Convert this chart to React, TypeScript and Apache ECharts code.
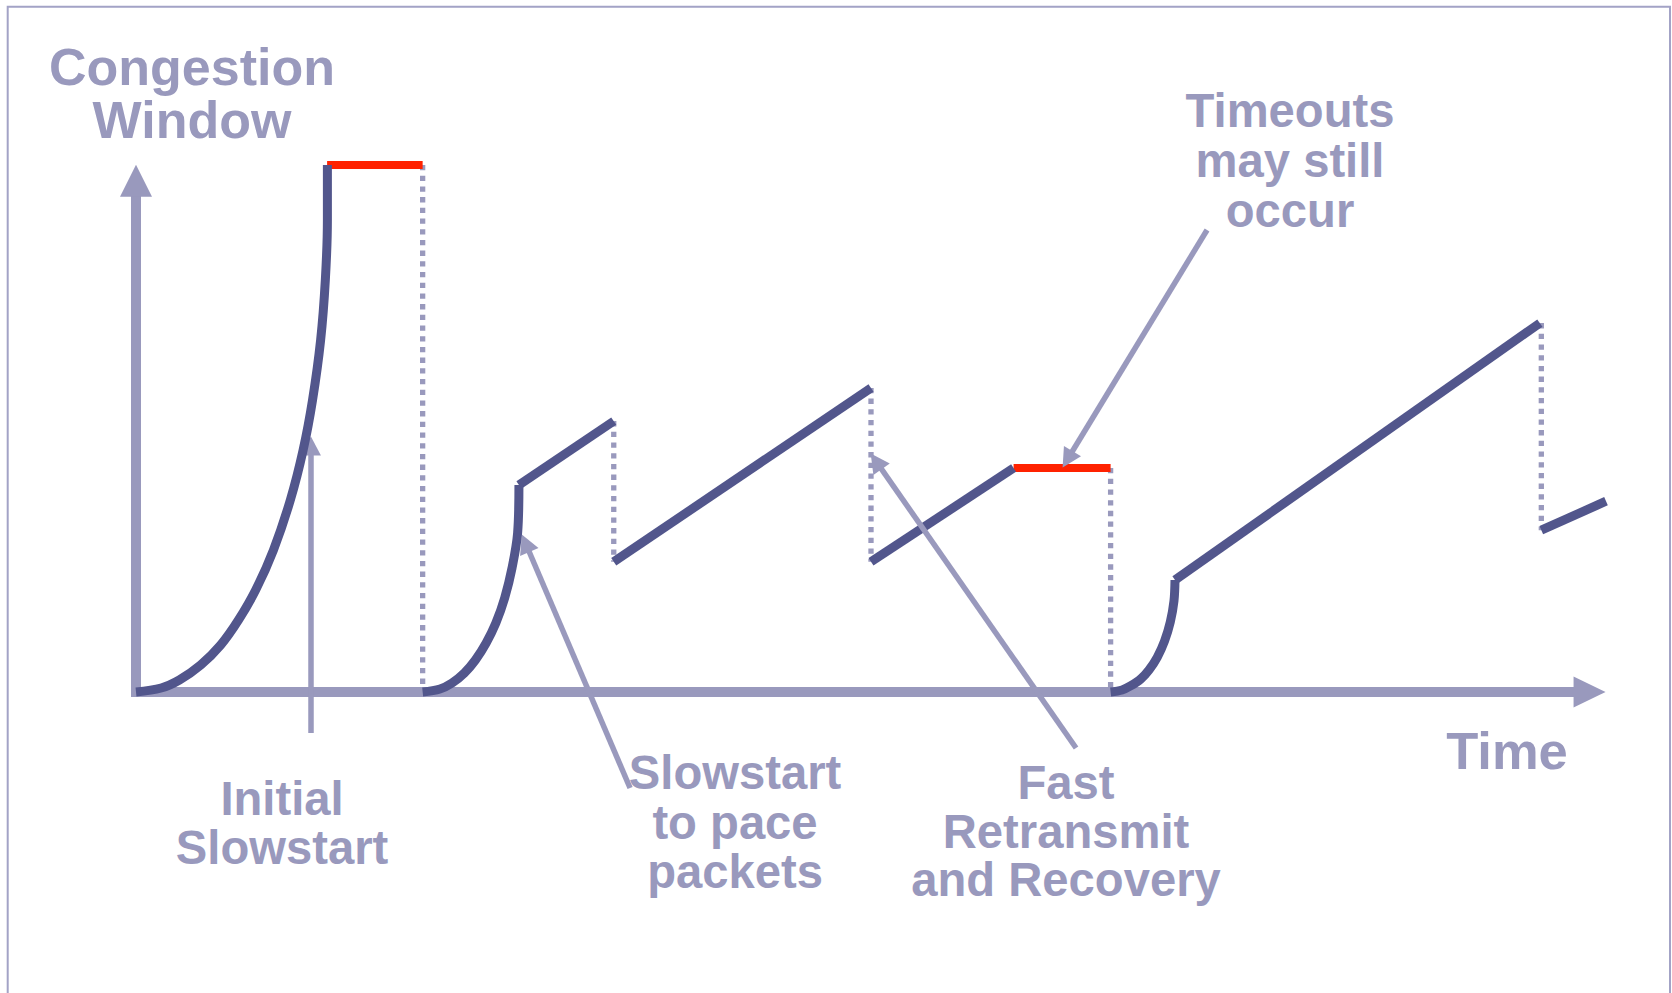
import React, { useEffect, useRef } from "react";
import * as echarts from "echarts";

// Axis ranges: time in arbitrary units, congestion window as % of the first peak.
const TIME_RANGE: [number, number] = [-5, 102];
const CWND_RANGE: [number, number] = [-25, 105];

// Exponential growth phases (slow start).
const initialSlowstart: [number, number][] = [
  [0, 0], [1.71, 0.76], [2.95, 2.28], [4.4, 5.12], [5.76, 8.92], [6.97, 13.66],
  [8.14, 19.35], [9.35, 26.94], [10.5, 36.43], [11.37, 45.92], [12.01, 55.41],
  [12.56, 66.79], [12.88, 78.18], [13.02, 89.56], [13.02, 100],
];
const paceSlowstart: [number, number][] = [
  [19.5, 0], [20.68, 0.57], [21.5, 1.71], [22.34, 3.61], [23.09, 6.07],
  [23.82, 9.3], [24.48, 13.09], [25.08, 17.84], [25.58, 23.53], [25.96, 30.17],
  [26.05, 39.28],
];
const timeoutSlowstart: [number, number][] = [
  [66.3, 0], [67.08, 0.38], [67.65, 1.14], [68.35, 2.47], [68.91, 4.17],
  [69.48, 6.64], [69.97, 9.68], [70.36, 13.28], [70.61, 17.27], [70.68, 21.25],
];

// Linear growth phases (congestion avoidance).
const congestionAvoidance: [number, number][][] = [
  [[26.05, 39.28], [32.5, 51.4]],
  [[32.5, 24.7], [50.0, 57.7]],
  [[50.0, 24.7], [59.7, 42.5]],
  [[70.68, 21.25], [95.5, 70.0]],
  [[95.6, 30.7], [100, 36.2]],
];

// Window stalled while waiting for a timeout.
const windowStall: [number, number][][] = [
  [[13.0, 100], [19.5, 100]],
  [[59.7, 42.5], [66.3, 42.5]],
];

// Window reductions (loss detected).
const windowCut: [number, number][][] = [
  [[19.5, 100], [19.5, 0]],
  [[32.5, 51.4], [32.5, 24.7]],
  [[50.0, 57.7], [50.0, 24.7]],
  [[66.3, 42.5], [66.3, 0]],
  [[95.6, 70.0], [95.6, 30.7]],
];

// Axis lines end at the centre of their arrowheads.
const timeAxisLine: [number, number][] = [[-0.34, 0], [98.88, 0]];
const cwndAxisLine: [number, number][] = [[0, 0], [0, 97.0]];

// Callout arrows: tail, then arrowhead centre.
const calloutsUnder: [number, number][][] = [
  [[11.9, -7.78], [11.9, 46.68]],
  [[33.61, -18.22], [26.5, 28.22]],
];
const calloutsOver: [number, number][][] = [
  [[63.95, -10.63], [50.35, 43.76]],
  [[72.86, 87.67], [63.37, 44.16]],
];

const yTitle = ["Congestion", "Window"];
const xTitle = ["Time"];
const noteInitial = ["Initial", "Slowstart"];
const notePace = ["Slowstart", "to pace", "packets"];
const noteFast = ["Fast", "Retransmit", "and Recovery"];
const noteTimeout = ["Timeouts", "may still", "occur"];

const DARK = "#52568c";
const LIGHT = "#9999bd";
const RED = "#ff2200";
const FONT = '"Liberation Sans", Arial, Helvetica, sans-serif';

const plain = {
  type: "line" as const,
  showSymbol: false,
  symbol: "none",
  silent: true,
  clip: false,
  emphasis: { disabled: true },
};

function segmentSeries(
  segs: [number, number][][],
  color: string,
  width: number,
  z: number,
  dash?: number[]
) {
  return segs.map((d) => ({
    ...plain,
    data: d,
    z,
    itemStyle: { color },
    lineStyle: { color, width, type: dash ?? "solid", cap: "butt" },
  }));
}

function curveSeries(d: [number, number][]) {
  return {
    ...plain,
    data: d,
    z: 5,
    smooth: 0.35,
    itemStyle: { color: DARK },
    lineStyle: { color: DARK, width: 9, cap: "butt" },
  };
}

function arrowLines(
  lines: [number, number][][],
  width: number,
  head: [number, number],
  z: number
) {
  return {
    silent: true,
    z,
    label: { show: false },
    emphasis: { disabled: true },
    lineStyle: { color: LIGHT, width, type: "solid", cap: "butt" },
    data: lines.map(([a, b]) => [
      { coord: a, symbol: "none" },
      { coord: b, symbol: "triangle", symbolSize: head },
    ]),
  };
}

// One multi-line text block; firstY is the middle of its first line.
function textBlock(lines: string[], x: number, firstY: number, lineHeight: number, size: number) {
  return {
    type: "text",
    x,
    y: firstY + ((lines.length - 1) * lineHeight) / 2,
    silent: true,
    style: {
      text: lines.join("\n"),
      fill: LIGHT,
      font: `bold ${size}px ${FONT}`,
      lineHeight,
      align: "center",
      verticalAlign: "middle",
    },
  };
}

export default function App() {
  const ref = useRef<HTMLDivElement>(null);

  useEffect(() => {
    if (!ref.current) return;
    const chart = echarts.init(ref.current, undefined, { renderer: "svg" });
    chart.setOption({
      animation: false,
      backgroundColor: "#ffffff",
      grid: { left: 62.5, right: 36.6, top: 138.65, bottom: 169.25, outerBoundsMode: "none" },
      xAxis: { type: "value", min: TIME_RANGE[0], max: TIME_RANGE[1], show: false },
      yAxis: { type: "value", min: CWND_RANGE[0], max: CWND_RANGE[1], show: false },
      series: [
        {
          ...plain,
          data: [],
          markLine: {
            silent: true,
            z: 1,
            label: { show: false },
            emphasis: { disabled: true },
            lineStyle: { color: LIGHT, width: 10, type: "solid", cap: "butt" },
            data: [
              [
                { coord: timeAxisLine[0], symbol: "none" },
                { coord: timeAxisLine[1], symbol: "triangle", symbolSize: [31, 32] },
              ],
              [
                { coord: cwndAxisLine[0], symbol: "none" },
                { coord: cwndAxisLine[1], symbol: "triangle", symbolSize: [32, 32] },
              ],
            ],
          },
        },
        { ...plain, data: [], markLine: arrowLines(calloutsUnder, 5.5, [20, 19], 3) },
        { ...plain, data: [], markLine: arrowLines(calloutsOver, 5.5, [20, 19], 6) },
        ...segmentSeries(windowCut, LIGHT, 5.3, 2, [5.3, 5.4]),
        ...segmentSeries(windowStall, RED, 8, 4),
        ...segmentSeries(congestionAvoidance, DARK, 9, 5),
        curveSeries(initialSlowstart),
        curveSeries(paceSlowstart),
        curveSeries(timeoutSlowstart),
      ],
      graphic: [
        {
          type: "polyline",
          silent: true,
          shape: { points: [[7.7, 1000], [7.7, 6.7], [1670, 6.7], [1670, 1000]] },
          style: { stroke: "#a3a3c6", lineWidth: 2, fill: null },
        },
        textBlock(yTitle, 192, 67, 52.5, 52),
        textBlock(xTitle, 1507, 750, 52, 52.5),
        textBlock(noteInitial, 282, 798.5, 49, 47.2),
        textBlock(notePace, 735, 772.5, 49.5, 47.2),
        textBlock(noteFast, 1066, 782.5, 48.5, 47.2),
        textBlock(noteTimeout, 1290, 110, 50, 47.2),
      ],
    });
    return () => chart.dispose();
  }, []);

  return (
    <div
      ref={ref}
      style={{ position: "absolute", left: 0, top: 0, width: 1672, height: 993 }}
    />
  );
}
